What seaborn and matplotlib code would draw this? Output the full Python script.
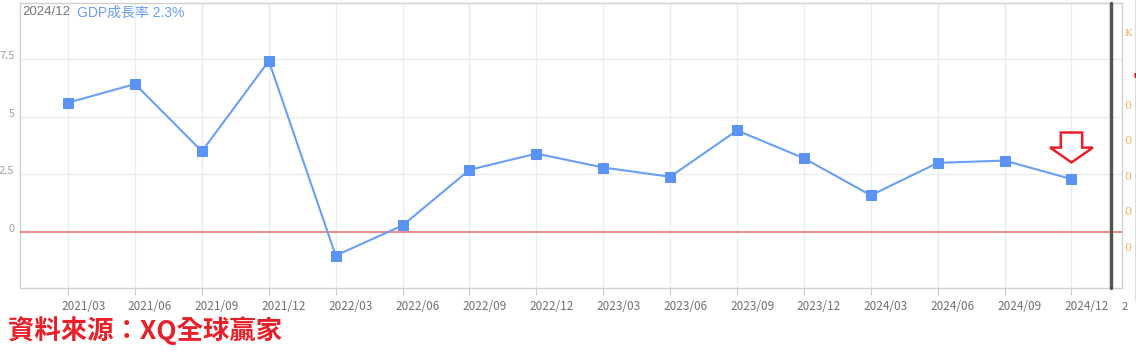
import matplotlib
matplotlib.use("Agg")
import matplotlib.pyplot as plt
import matplotlib.transforms as mtransforms
from matplotlib.patches import Polygon
import seaborn as sns
import pandas as pd

quarters = ["2021/03", "2021/06", "2021/09", "2021/12",
            "2022/03", "2022/06", "2022/09", "2022/12",
            "2023/03", "2023/06", "2023/09", "2023/12",
            "2024/03", "2024/06", "2024/09", "2024/12"]
gdp_growth = [5.6, 6.4, 3.5, 7.4, -1.0, 0.3, 2.7, 3.4,
              2.8, 2.4, 4.4, 3.2, 1.6, 3.0, 3.1, 2.3]
ytick_values = [0, 2.5, 5, 7.5]
ytick_labels = ["0", "2.5", "5", "7.5"]

sns.set_theme(style="white")
plt.rcParams['font.family'] = ['Noto Sans CJK TC', 'DejaVu Sans']

df = pd.DataFrame({"quarter": quarters, "gdp": gdp_growth})

fig = plt.figure(figsize=(11.36, 3.59), dpi=100)
ax = fig.add_axes([20/1136, 1-288/359, 1102/1136, 285/359])

line_color = "#6a9ff5"
sns.lineplot(data=df, x="quarter", y="gdp", ax=ax, color=line_color,
             linewidth=1.5, marker="s", markersize=7.5,
             markerfacecolor="#5b93f5", markeredgecolor="#5b93f5", zorder=5)

ax.set_xlim(-0.72, 15.755)
ax.set_ylim(-2.4, 9.9)

# grid
for i in range(len(quarters)):
    ax.axvline(i, color="#e3eef8", linewidth=1, zorder=0)
for v in [2.5, 5, 7.5]:
    ax.axhline(v, color="#ececec", linewidth=1, zorder=0)

# zero line (red)
ax.axhline(0, color="#f06a6a", linewidth=1.1, zorder=3)

# ticks
ax.set_yticks(ytick_values)
ax.set_yticklabels(ytick_labels)
ax.tick_params(axis="y", length=0, pad=4, labelsize=8, labelcolor="#a0a0a0")
ax.tick_params(axis="x", length=5, width=0.8, color="#c8c8c8", pad=4,
               labelsize=8.5, labelcolor="#707070", direction="out")
ax.xaxis.set_ticks_position("bottom")
ax.set_xlabel("")
ax.set_ylabel("")
offx = mtransforms.ScaledTranslation(15/100, 0, fig.dpi_scale_trans)
for lab in ax.get_xticklabels():
    lab.set_transform(lab.get_transform() + offx)
offy = mtransforms.ScaledTranslation(0, 4/100, fig.dpi_scale_trans)
for lab in ax.get_yticklabels():
    lab.set_transform(lab.get_transform() + offy)

for s in ax.spines.values():
    s.set_color("#d0d0d0")
    s.set_linewidth(1)

# dark vertical separator
ax.plot([0.990, 0.990], [0, 1], transform=ax.transAxes, color="#555555",
        linewidth=2.5, zorder=6, clip_on=False)

# hollow red arrow above last point
xc = 15
sh, hh = 0.16, 0.32
pts = [(xc - sh, 4.31), (xc + sh, 4.31), (xc + sh, 3.66), (xc + hh, 3.66),
       (xc, 3.02), (xc - hh, 3.66), (xc - sh, 3.66)]
ax.add_patch(Polygon(pts, closed=True, facecolor="white", edgecolor="#e8202a",
                     linewidth=1.8, zorder=7))

# title texts
ax.text(0.002, 0.99, "2024/12", transform=ax.transAxes, ha="left", va="top",
        fontsize=9.5, color="#777777", family=['Liberation Sans'])
ax.text(0.052, 0.99, "GDP成長率 2.3%", transform=ax.transAxes, ha="left", va="top",
        fontsize=10, color="#6a9ff5", family=['Liberation Sans', 'Noto Sans CJK TC'])

# right-side cropped secondary labels
fig.text(1124/1136, 1-33/359, "K", ha="left", va="center", fontsize=7,
         color="#f0a850", family=['DejaVu Serif'])
for ypx in [106, 141, 177, 212, 248]:
    fig.text(1124/1136, 1-ypx/359, "0", ha="left", va="center", fontsize=8,
             color="#f0b060", family=['DejaVu Serif'])
fig.text(1133/1136, 1-80/359, "'", ha="left", va="center", fontsize=10,
         color="#e02020", fontweight="bold")
fig.text(1122/1136, 1-307/359, "2", ha="left", va="center", fontsize=8,
         color="#707070")
fig.add_artist(plt.Line2D([1135/1136, 1135/1136], [1-300/359, 1.0],
                          color="#dddddd", linewidth=0.8))

# source text
fig.text(8/1136, 1-331/359, "資料來源：XQ全球贏家", ha="left", va="center",
         fontsize=19, fontweight="bold", color="#e8202a")

fig.savefig("out.png", dpi=100, facecolor="white")
